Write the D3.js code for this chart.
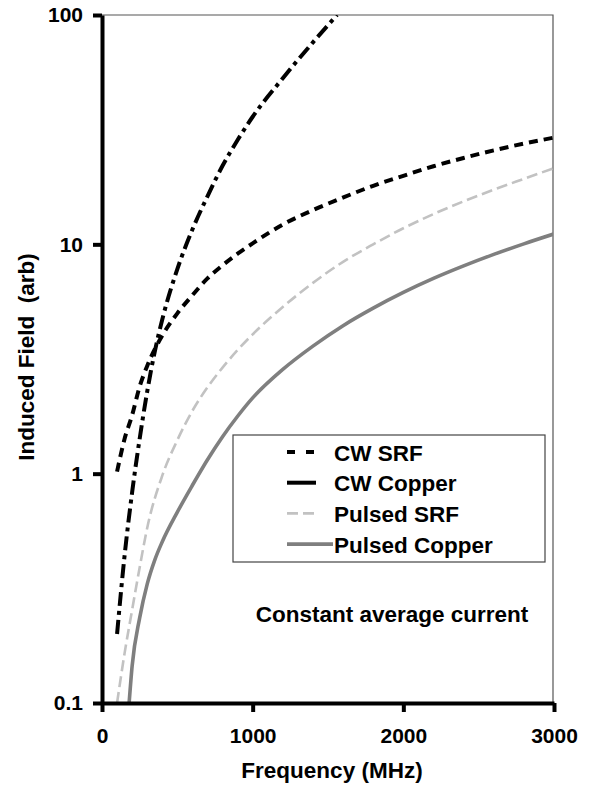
<!DOCTYPE html>
<html>
<head>
<meta charset="utf-8">
<script src="https://cdn.jsdelivr.net/npm/d3@7"></script>
<style>
  body { margin: 0; background: #fff; }
  text { font-family: "Liberation Sans", Arial, sans-serif; font-weight: bold; fill: #000; }
</style>
</head>
<body>
<svg id="chart"></svg>
<script>
// data
const cwSrfFreq = [100, 150, 200, 250, 300, 400, 500, 600, 700, 800, 900, 1000, 1200, 1400, 1600, 1800, 2000, 2200, 2400, 2600, 2800, 3000];
const cwSrf = [1.02, 1.42, 1.8, 2.4, 2.95, 4.0, 5.0, 6.0, 7.1, 8.1, 9.1, 10.1, 12.2, 14.1, 16.0, 18.0, 19.9, 21.9, 23.8, 25.7, 27.5, 29.2];

const cwCopperFreq = [100, 150, 200, 250, 300, 350, 400, 500, 600, 700, 800, 900, 1000, 1200, 1400, 1560];
const cwCopper = [0.2, 0.44, 0.83, 1.42, 2.28, 3.4, 4.7, 7.8, 11.6, 16.2, 22, 28.5, 36, 53, 76, 100];

const pulsedSrfFreq = [100, 150, 200, 250, 300, 400, 500, 600, 700, 800, 900, 1000, 1200, 1400, 1600, 1800, 2000, 2200, 2400, 2600, 2800, 3000];
const pulsedSrf = [0.1, 0.165, 0.255, 0.39, 0.58, 0.98, 1.4, 1.88, 2.38, 2.9, 3.46, 4.05, 5.33, 6.79, 8.39, 10.0, 11.75, 13.55, 15.4, 17.3, 19.3, 21.5];

const pulsedCopperFreq = [180, 200, 250, 300, 350, 400, 500, 600, 700, 800, 900, 1000, 1200, 1400, 1600, 1800, 2000, 2200, 2400, 2600, 2800, 3000];
const pulsedCopper = [0.1, 0.145, 0.235, 0.33, 0.42, 0.505, 0.68, 0.89, 1.15, 1.45, 1.78, 2.14, 2.85, 3.6, 4.42, 5.27, 6.17, 7.1, 8.05, 9.04, 10.05, 11.1];

const xTicks = [0, 1000, 2000, 3000];
const yTicks = [0.1, 1, 10, 100];
const yTickLabels = ["0.1", "1", "10", "100"];
const legendNames = ["CW SRF", "CW Copper", "Pulsed SRF", "Pulsed Copper"];

const width = 592;
const height = 787;
const plotLeft = 102, plotRight = 553, plotTop = 15, plotBottom = 703;

const svg = d3.select("#chart")
  .attr("width", width)
  .attr("height", height);

const x = d3.scaleLinear().domain([0, 3000]).range([plotLeft, plotRight + 1]);
const y = d3.scaleLog().domain([0.1, 100]).range([plotBottom, plotTop]);

const styles = [
  { color: "#000", width: 4, dash: "9,6" },
  { color: "#000", width: 4, dash: "14,5,4,5" },
  { color: "#c2c2c2", width: 2.6, dash: "11,5" },
  { color: "#7f7f7f", width: 3.6, dash: null }
];

const series = [
  { f: cwSrfFreq, v: cwSrf },
  { f: cwCopperFreq, v: cwCopper },
  { f: pulsedSrfFreq, v: pulsedSrf },
  { f: pulsedCopperFreq, v: pulsedCopper }
];

svg.append("clipPath").attr("id", "plot")
  .append("rect")
  .attr("x", plotLeft).attr("y", plotTop)
  .attr("width", plotRight - plotLeft).attr("height", plotBottom - plotTop);

// thin frame top / right
svg.append("path")
  .attr("d", `M${plotLeft},${plotTop}H${plotRight}V${plotBottom}`)
  .attr("fill", "none")
  .attr("stroke", "#555")
  .attr("stroke-width", 1.2);

const line = d3.line()
  .x(d => x(d[0]))
  .y(d => y(d[1]))
  .curve(d3.curveMonotoneX);

// draw lighter ones first
[3, 2, 0, 1].forEach(i => {
  const s = series[i];
  const pts = s.f.map((f, j) => [f, s.v[j]]);
  svg.append("path")
    .datum(pts)
    .attr("clip-path", "url(#plot)")
    .attr("fill", "none")
    .attr("stroke", styles[i].color)
    .attr("stroke-width", styles[i].width)
    .attr("stroke-dasharray", styles[i].dash)
    .attr("d", line);
});

// axes
const xAxis = d3.axisBottom(x)
  .tickValues(xTicks)
  .tickFormat(d3.format("d"))
  .tickSizeInner(9)
  .tickSizeOuter(0)
  .tickPadding(16);
const yAxis = d3.axisLeft(y)
  .tickValues(yTicks)
  .tickFormat((d, i) => yTickLabels[i])
  .tickSizeInner(9)
  .tickSizeOuter(0)
  .tickPadding(10);

const gx = svg.append("g")
  .attr("transform", `translate(0, ${plotBottom})`)
  .call(xAxis);
const gy = svg.append("g")
  .attr("transform", `translate(${plotLeft}, 0)`)
  .call(yAxis);

[gx, gy].forEach(g => {
  g.select(".domain").attr("stroke", "#000").attr("stroke-width", 4);
  g.selectAll(".tick line").attr("stroke", "#000").attr("stroke-width", 4);
  g.selectAll(".tick text")
    .attr("font-family", "Liberation Sans, Arial, sans-serif")
    .attr("font-weight", "bold")
    .attr("font-size", 21)
    .attr("fill", "#000");
});

// axis titles
svg.append("text")
  .attr("x", 332)
  .attr("y", 778)
  .attr("text-anchor", "middle")
  .attr("font-size", 22.5)
  .text("Frequency (MHz)");

svg.append("text")
  .attr("transform", "translate(34, 357) rotate(-90)")
  .attr("text-anchor", "middle")
  .attr("font-size", 22.5)
  .style("white-space", "pre")
  .text("Induced Field  (arb)");

// legend
const legend = svg.append("g");
legend.append("rect")
  .attr("x", 233).attr("y", 435)
  .attr("width", 312).attr("height", 127)
  .attr("fill", "#fff")
  .attr("stroke", "#444")
  .attr("stroke-width", 1.2);

legendNames.forEach((name, i) => {
  const cy = 452 + i * 30.7;
  legend.append("line")
    .attr("x1", 287).attr("x2", i === 3 ? 333 : 316)
    .attr("y1", cy).attr("y2", cy)
    .attr("stroke", styles[i].color)
    .attr("stroke-width", styles[i].width)
    .attr("stroke-dasharray", i === 0 ? "8,11" : (i === 2 ? styles[i].dash : null));
  legend.append("text")
    .attr("x", 334)
    .attr("y", cy + 8.5)
    .attr("font-size", 22.5)
    .text(name);
});

svg.append("text")
  .attr("x", 392)
  .attr("y", 622)
  .attr("text-anchor", "middle")
  .attr("font-size", 22.5)
  .text("Constant average current");
</script>
</body>
</html>
